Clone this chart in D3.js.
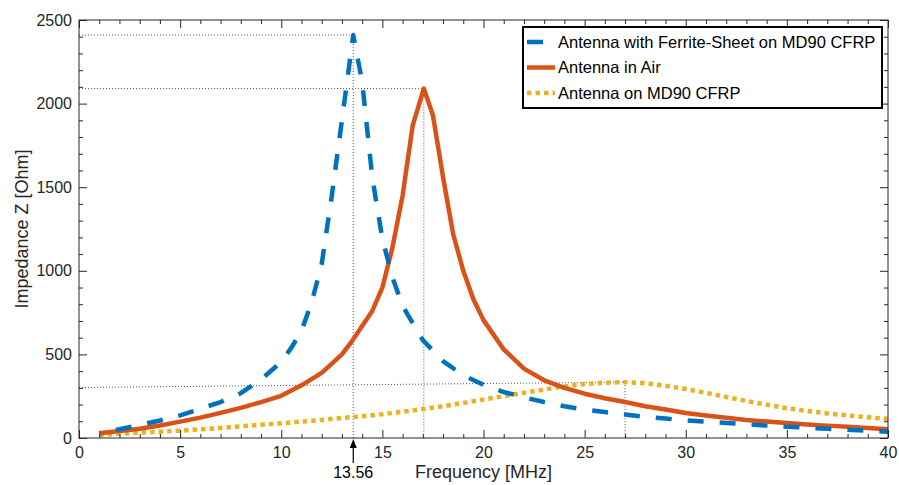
<!DOCTYPE html>
<html>
<head>
<meta charset="utf-8">
<script src="https://cdn.jsdelivr.net/npm/d3@7"></script>
<style>
  html, body { margin: 0; padding: 0; background: #fff; }
  svg { display: block; font-family: "Liberation Sans", Arial, sans-serif; }
</style>
</head>
<body>
<div id="chart"></div>
<script>
// Ferrite-sheet antenna (blue, dashed)
const freqFerrite = [1, 2, 3, 4, 5, 6, 7, 8, 9, 10, 10.5, 11, 11.5, 12, 12.5, 13, 13.56, 14, 14.5, 15, 15.5, 16,
  17, 18, 19, 20, 21, 22, 23, 24, 25, 26, 27, 28, 29, 30, 31, 32, 33, 34, 35, 36, 37, 38, 39, 40];
const zFerrite = [30, 52, 78, 105, 135, 175, 215, 268, 350, 455, 540, 640, 810, 1040, 1450, 1900, 2410, 2130, 1560, 1190, 960, 790,
  585, 460, 375, 318, 275, 243, 215, 190, 170, 155, 140, 126, 116, 106, 98, 90, 82, 74, 68, 61, 55, 49, 43, 38];

// Antenna in air (red, solid)
const freqAir = [1, 2, 3, 4, 5, 6, 7, 8, 9, 10, 11, 12, 13, 13.5, 14, 14.5, 15, 15.5, 16, 16.5, 17.05, 17.5, 18, 18.5, 19, 19.5,
  20, 21, 22, 23, 24, 25, 26, 27, 28, 29, 30, 31, 32, 33, 34, 35, 36, 37, 38, 39, 40];
const zAir = [28, 42, 55, 75, 98, 122, 150, 180, 215, 252, 315, 390, 500, 580, 670, 760, 900, 1140, 1450, 1870, 2090, 1930, 1560, 1220, 1000, 830,
  705, 530, 415, 345, 300, 265, 238, 215, 190, 170, 150, 135, 121, 108, 98, 90, 81, 74, 67, 60, 53];

// Antenna on CFRP (yellow, dotted)
const freqCfrp = [1, 2, 3, 4, 5, 6, 7, 8, 9, 10, 11, 12, 13, 14, 15, 16, 17, 18, 19, 20, 21, 22, 23, 24, 25, 26, 27, 28, 29, 30,
  31, 32, 33, 34, 35, 36, 37, 38, 39, 40];
const zCfrp = [18, 25, 32, 38, 44, 52, 60, 70, 79, 88, 98, 108, 120, 130, 142, 157, 173, 190, 210, 230, 250, 270, 290, 309, 323, 331, 334, 328, 312, 293,
  270, 245, 222, 199, 178, 162, 147, 135, 124, 114];

const seriesNames = ["Antenna with Ferrite-Sheet on MD90 CFRP", "Antenna in Air", "Antenna on MD90 CFRP"];

// dotted guide lines: resonance frequency, peak value, value at the axis
const refFreq = [13.56, 17.05, 27];
const refZ = [2410, 2090, 334];
const refZStart = [2410, 2090, 302];

const xTicks = [0, 5, 10, 15, 20, 25, 30, 35, 40];
const yTicks = [0, 500, 1000, 1500, 2000, 2500];
const markFreq = 13.56;

(function() {
    const width = 899, height = 485;
    const margin = {top: 20, right: 11, bottom: 47, left: 79};
    const innerWidth = width - margin.left - margin.right;
    const innerHeight = height - margin.top - margin.bottom;
    const axisColor = "#262626";
    const colors = ["#0072BD", "#D95319", "#EDB120"];

    const svg = d3.select("#chart").append("svg")
        .attr("width", width)
        .attr("height", height);

    const g = svg.append("g")
        .attr("transform", `translate(${margin.left},${margin.top})`);

    const x = d3.scaleLinear().domain([0, 40]).range([0, innerWidth]);
    const y = d3.scaleLinear().domain([0, 2500]).range([innerHeight, 0]);

    // dotted guide lines
    refFreq.forEach((f, i) => {
        g.append("line")
            .attr("x1", x(0)).attr("x2", x(f))
            .attr("y1", y(refZStart[i])).attr("y2", y(refZ[i]))
            .attr("stroke", "#555").attr("stroke-width", 1)
            .attr("stroke-dasharray", "1,2");
        g.append("line")
            .attr("x1", x(f)).attr("x2", x(f))
            .attr("y1", y(refZ[i])).attr("y2", y(0))
            .attr("stroke", "#555").attr("stroke-width", 1)
            .attr("stroke-dasharray", "1,2");
    });

    // curves
    const line = d3.line().x(d => x(d[0])).y(d => y(d[1]));
    const series = [
        {pts: d3.zip(freqCfrp, zCfrp), color: colors[2], dash: "4.5,4", width: 4.5},
        {pts: d3.zip(freqAir, zAir), color: colors[1], dash: null, width: 4.5},
        {pts: d3.zip(freqFerrite, zFerrite), color: colors[0], dash: "16,16", width: 4.5}
    ];
    series.forEach(s => {
        const p = g.append("path")
            .datum(s.pts)
            .attr("d", line)
            .attr("fill", "none")
            .attr("stroke", s.color)
            .attr("stroke-width", s.width)
            .attr("stroke-linejoin", "round")
            .attr("stroke-dasharray", s.dash);
        if (s.dash === "16,16") {
            // shift the dashes so one dash sits on the resonance peak
            const peak = d3.maxIndex(s.pts, d => d[1]);
            const tmp = g.append("path").attr("d", line(s.pts.slice(0, peak + 1)));
            const L = tmp.node().getTotalLength();
            tmp.remove();
            p.attr("stroke-dashoffset", (((8 - L) % 32) + 32) % 32);
        }
    });

    // axes box with inward ticks
    const minorX = d3.range(0, 41, 1).filter(v => v % 5 !== 0);
    const minorY = d3.range(0, 2501, 100).filter(v => v % 500 !== 0);

    function styleAxis(sel) {
        sel.select(".domain").remove();
        sel.selectAll("line").attr("stroke", axisColor);
        sel.selectAll("text")
            .attr("fill", axisColor)
            .style("font-family", "inherit")
            .style("font-size", "16px");
    }

    g.append("g")
        .attr("transform", `translate(0,${innerHeight})`)
        .call(d3.axisBottom(x).tickValues(xTicks).tickSizeInner(-8).tickSizeOuter(0).tickPadding(9).tickFormat(d3.format("d")))
        .call(styleAxis);
    g.append("g")
        .attr("transform", `translate(0,${innerHeight})`)
        .call(d3.axisBottom(x).tickValues(minorX).tickSizeInner(-4).tickSizeOuter(0).tickFormat(""))
        .call(styleAxis);
    g.append("g")
        .call(d3.axisTop(x).tickValues(xTicks).tickSizeInner(-8).tickSizeOuter(0).tickFormat(""))
        .call(styleAxis);
    g.append("g")
        .call(d3.axisTop(x).tickValues(minorX).tickSizeInner(-4).tickSizeOuter(0).tickFormat(""))
        .call(styleAxis);

    g.append("g")
        .call(d3.axisLeft(y).tickValues(yTicks).tickSizeInner(-8).tickSizeOuter(0).tickPadding(7).tickFormat(d3.format("d")))
        .call(styleAxis);
    g.append("g")
        .call(d3.axisLeft(y).tickValues(minorY).tickSizeInner(-4).tickSizeOuter(0).tickFormat(""))
        .call(styleAxis);
    g.append("g")
        .attr("transform", `translate(${innerWidth},0)`)
        .call(d3.axisRight(y).tickValues(yTicks).tickSizeInner(-8).tickSizeOuter(0).tickFormat(""))
        .call(styleAxis);
    g.append("g")
        .attr("transform", `translate(${innerWidth},0)`)
        .call(d3.axisRight(y).tickValues(minorY).tickSizeInner(-4).tickSizeOuter(0).tickFormat(""))
        .call(styleAxis);

    g.append("rect")
        .attr("width", innerWidth)
        .attr("height", innerHeight)
        .attr("fill", "none")
        .attr("stroke", axisColor)
        .attr("stroke-width", 1);

    // 13.56 MHz marker arrow
    const ax = x(markFreq);
    g.append("line")
        .attr("x1", ax).attr("x2", ax)
        .attr("y1", innerHeight + 25).attr("y2", innerHeight + 8)
        .attr("stroke", "#000").attr("stroke-width", 1.2);
    g.append("path")
        .attr("d", `M${ax},${innerHeight + 1}L${ax - 3.5},${innerHeight + 10}L${ax + 3.5},${innerHeight + 10}Z`)
        .attr("fill", "#000");
    g.append("text")
        .attr("x", ax)
        .attr("y", innerHeight + 40)
        .attr("text-anchor", "middle")
        .style("font-size", "16px")
        .attr("fill", "#000")
        .text(markFreq.toFixed(2));

    // axis labels
    g.append("text")
        .attr("x", x(20))
        .attr("y", innerHeight + 40)
        .attr("text-anchor", "middle")
        .style("font-size", "18px")
        .attr("fill", axisColor)
        .text("Frequency [MHz]");
    g.append("text")
        .attr("transform", `translate(${-51},${innerHeight / 2}) rotate(-90)`)
        .attr("text-anchor", "middle")
        .style("font-size", "18px")
        .attr("fill", axisColor)
        .text("Impedance Z [Ohm]");

    // legend
    const legend = svg.append("g").attr("transform", "translate(523,27)");
    legend.append("rect")
        .attr("width", 359)
        .attr("height", 81)
        .attr("fill", "#fff")
        .attr("stroke", "#000")
        .attr("stroke-width", 2);
    const legendStyle = [
        {color: colors[0], dash: "16,16", len: 16},
        {color: colors[1], dash: null, len: 28},
        {color: colors[2], dash: "4.5,4", len: 28}
    ];
    seriesNames.forEach((name, i) => {
        const row = legend.append("g").attr("transform", `translate(0,${15 + i * 25.5})`);
        row.append("line")
            .attr("x1", 4).attr("x2", 4 + legendStyle[i].len)
            .attr("stroke", legendStyle[i].color)
            .attr("stroke-width", 4.5)
            .attr("stroke-dasharray", legendStyle[i].dash);
        row.append("text")
            .attr("x", 35)
            .attr("dy", "0.35em")
            .style("font-size", "16.5px")
            .attr("fill", "#000")
            .text(name);
    });
})();
</script>
</body>
</html>
